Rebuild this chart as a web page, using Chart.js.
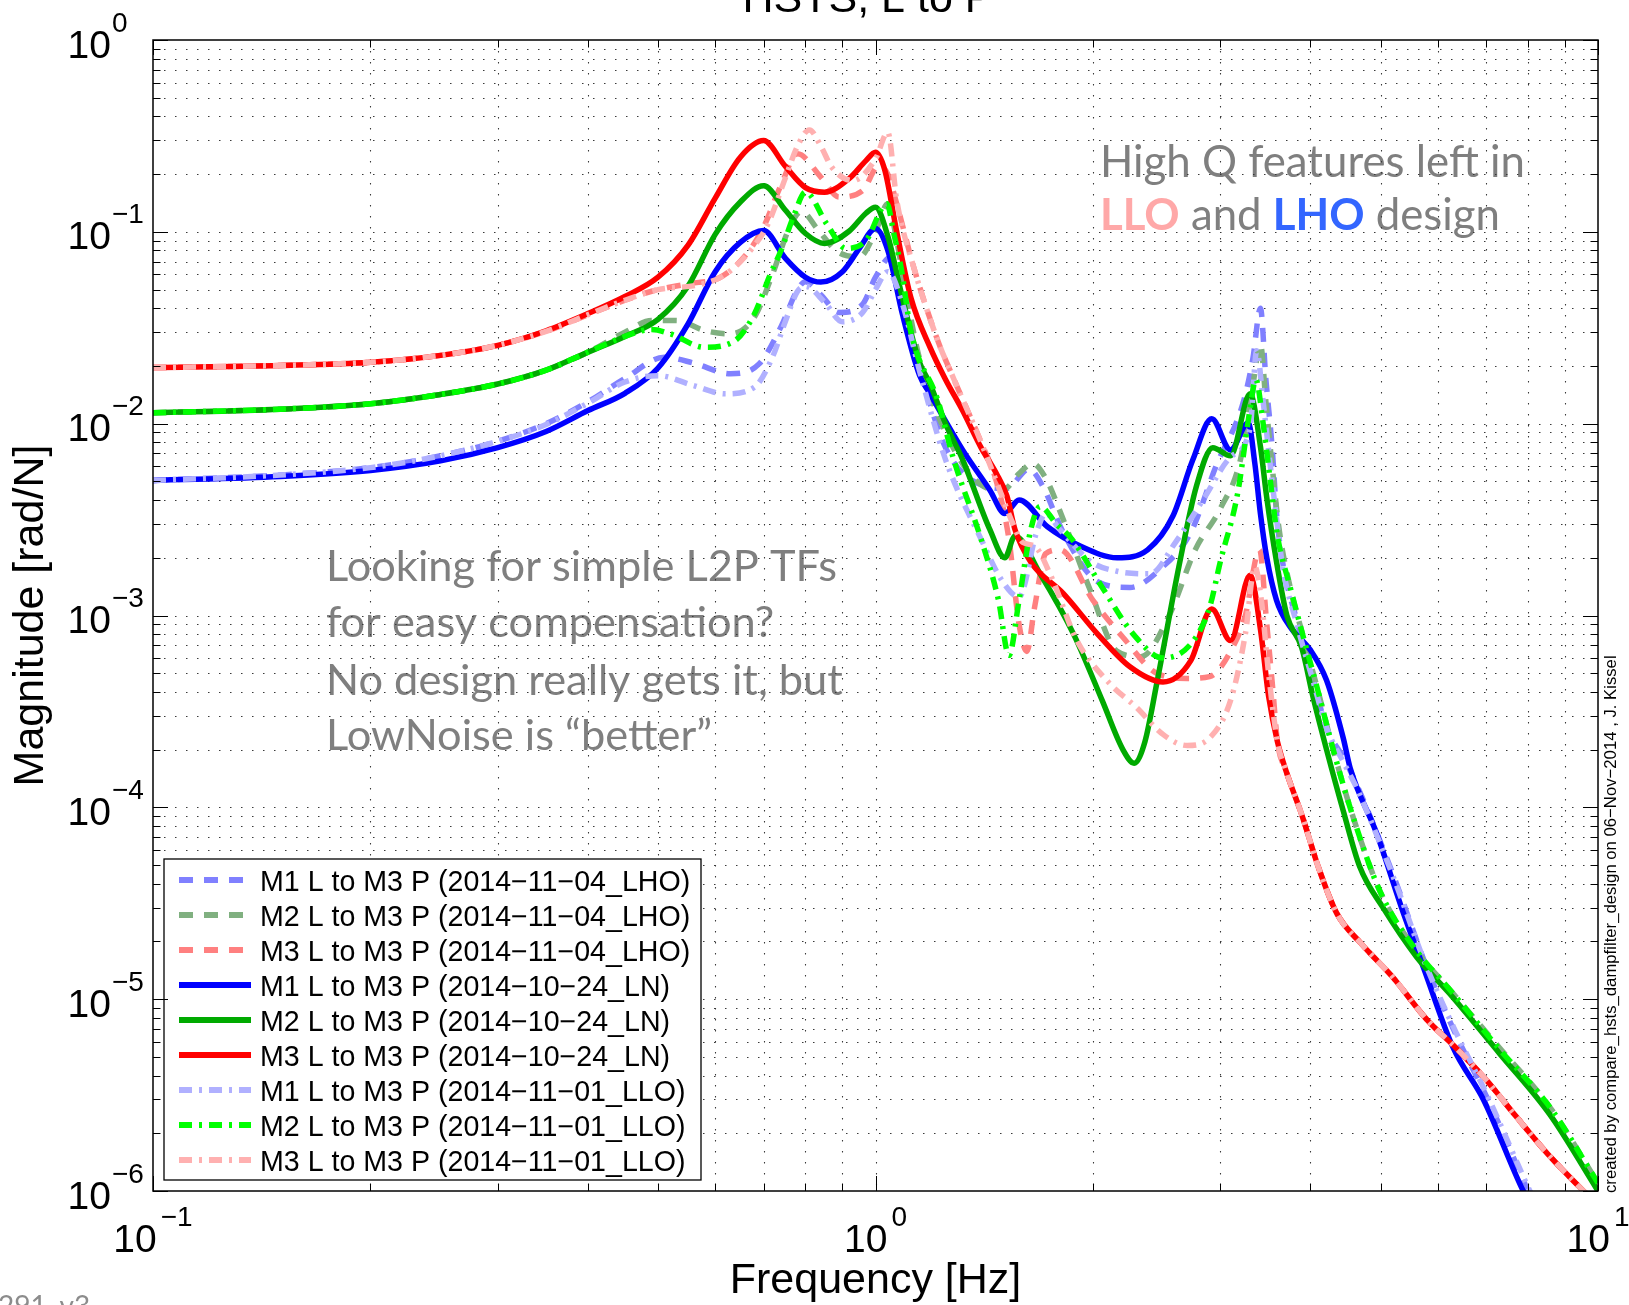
<!DOCTYPE html>
<html>
<head>
<meta charset="utf-8">
<script src="https://cdn.jsdelivr.net/npm/chart.js@4.4.0/dist/chart.umd.min.js"></script>
<style>
  html, body { margin: 0; padding: 0; background: #fff; overflow: hidden; }
  #tfChart { display: block; }
</style>
</head>
<body>
<canvas id="tfChart" width="1629" height="1305"></canvas>
<script>
// ---- data (frequency in Hz, magnitude in rad/N) ----
const fM1LHO = [0.1, 0.15, 0.2, 0.25, 0.3, 0.35, 0.4, 0.45, 0.51, 0.56, 0.63, 0.69, 0.74, 0.78, 0.8, 0.84, 0.89, 0.96, 1.0, 1.05, 1.09, 1.15, 1.25, 1.4, 1.52, 1.63, 1.7, 1.82, 2.03, 2.25, 2.5, 2.73, 2.96, 3.23, 3.33, 3.41, 3.47, 3.54, 3.59, 3.66, 3.83, 4.03, 4.21, 4.45, 4.64, 5.2, 5.78, 6.35, 7.04, 8.0, 8.5];
const mM1LHO = [0.00506, 0.0054, 0.0059, 0.0068, 0.0081, 0.01, 0.013, 0.0172, 0.0222, 0.0207, 0.0182, 0.0205, 0.032, 0.05, 0.055, 0.047, 0.038, 0.042, 0.058, 0.074, 0.045, 0.02, 0.0075, 0.0048, 0.0046, 0.0058, 0.0048, 0.0027, 0.0015, 0.0014, 0.0018, 0.0027, 0.006, 0.013, 0.022, 0.04, 0.017, 0.0075, 0.0034, 0.0019, 0.00094, 0.00047, 0.00026, 0.00018, 0.00013, 4.5e-5, 1.5e-5, 6.6e-6, 3.0e-6, 1.0e-6, 6e-7];

const fM2LHO = [0.1, 0.15, 0.2, 0.25, 0.3, 0.35, 0.4, 0.45, 0.49, 0.53, 0.58, 0.63, 0.68, 0.72, 0.76, 0.79, 0.83, 0.885, 0.95, 1.0, 1.04, 1.07, 1.1, 1.15, 1.25, 1.4, 1.5, 1.58, 1.65, 1.72, 1.8, 1.98, 2.16, 2.33, 2.55, 2.77, 3.0, 3.2, 3.33, 3.41, 3.47, 3.54, 3.62, 3.75, 3.9, 4.1, 4.3, 4.6, 5.0, 5.6, 6.2, 7.3, 8.6, 10];
const mM2LHO = [0.0114, 0.0119, 0.0127, 0.0142, 0.0161, 0.019, 0.0236, 0.03, 0.0345, 0.0345, 0.0306, 0.0294, 0.036, 0.06, 0.105, 0.128, 0.104, 0.079, 0.074, 0.1, 0.14, 0.09, 0.05, 0.022, 0.009, 0.0048, 0.0045, 0.0055, 0.0062, 0.0052, 0.0035, 0.00137, 0.00065, 0.00061, 0.001, 0.0022, 0.0036, 0.0065, 0.016, 0.026, 0.013, 0.006, 0.0028, 0.0014, 0.0008, 0.0004, 0.0002, 8.5e-5, 3.6e-5, 1.8e-5, 1.15e-5, 5.6e-6, 2.7e-6, 1.1e-6];

const fM3LHO = [0.1, 0.15, 0.2, 0.25, 0.3, 0.35, 0.4, 0.45, 0.49, 0.55, 0.61, 0.66, 0.7, 0.74, 0.78, 0.84, 0.89, 0.96, 1.01, 1.04, 1.07, 1.13, 1.22, 1.28, 1.4, 1.47, 1.53, 1.58, 1.62, 1.66, 1.72, 1.8, 2.0, 2.2, 2.45, 2.7, 2.9, 3.1, 3.25, 3.4, 3.48, 3.55, 3.6, 3.7, 3.9, 4.1, 4.35, 4.7, 5.2, 5.8, 6.35, 7.0, 7.7, 8.6, 9.5, 10];
const mM3LHO = [0.0196, 0.0201, 0.0209, 0.0227, 0.0256, 0.0303, 0.037, 0.044, 0.049, 0.0536, 0.058, 0.075, 0.106, 0.175, 0.255, 0.193, 0.152, 0.164, 0.22, 0.2, 0.14, 0.065, 0.027, 0.0175, 0.008, 0.005, 0.0025, 0.0009, 0.00065, 0.0011, 0.0021, 0.0022, 0.0012, 0.00077, 0.0005, 0.00047, 0.00048, 0.00065, 0.001, 0.0022, 0.0009, 0.0004, 0.00022, 0.000155, 8.9e-5, 4.9e-5, 2.8e-5, 1.95e-5, 1.3e-5, 7.8e-6, 5.6e-6, 3.8e-6, 2.45e-6, 1.5e-6, 1.02e-6, 8.5e-7];

const fM1LN = [0.1, 0.15, 0.2, 0.25, 0.3, 0.35, 0.4, 0.45, 0.5, 0.55, 0.6, 0.65, 0.7, 0.75, 0.8, 0.84, 0.9, 0.95, 1.0, 1.04, 1.09, 1.15, 1.19, 1.32, 1.44, 1.51, 1.58, 1.73, 1.92, 2.16, 2.38, 2.58, 2.75, 2.92, 3.1, 3.28, 3.35, 3.41, 3.48, 3.59, 3.75, 4.0, 4.21, 4.44, 4.54, 4.94, 5.38, 5.73, 6.3, 6.94, 7.88, 8.5];
const mM1LN = [0.00506, 0.0053, 0.0057, 0.0064, 0.0075, 0.0091, 0.0117, 0.0144, 0.0195, 0.033, 0.062, 0.088, 0.1015, 0.073, 0.058, 0.0547, 0.062, 0.082, 0.104, 0.08, 0.037, 0.018, 0.0143, 0.0073, 0.0045, 0.0034, 0.004, 0.0029, 0.0023, 0.002, 0.0022, 0.0033, 0.0065, 0.0106, 0.0073, 0.0101, 0.0062, 0.0034, 0.002, 0.0012, 0.00087, 0.00066, 0.00046, 0.00023, 0.00016, 7.3e-5, 2.8e-5, 1.47e-5, 5.6e-6, 3.0e-6, 1.0e-6, 6e-7];

const fM2LN = [0.1, 0.15, 0.2, 0.25, 0.3, 0.35, 0.4, 0.45, 0.5, 0.55, 0.6, 0.65, 0.7, 0.75, 0.8, 0.85, 0.92, 0.97, 1.0, 1.04, 1.09, 1.15, 1.19, 1.25, 1.32, 1.44, 1.51, 1.56, 1.69, 1.88, 2.06, 2.2, 2.28, 2.36, 2.45, 2.63, 2.78, 2.93, 3.1, 3.3, 3.41, 3.48, 3.59, 3.71, 3.89, 4.03, 4.21, 4.44, 4.68, 5.04, 5.61, 6.23, 7.31, 8.58, 10];
const mM2LN = [0.0114, 0.0119, 0.0127, 0.0142, 0.0161, 0.019, 0.0236, 0.0285, 0.035, 0.052, 0.097, 0.143, 0.174, 0.13, 0.098, 0.087, 0.101, 0.125, 0.1345, 0.095, 0.045, 0.021, 0.0161, 0.01, 0.0065, 0.0028, 0.002, 0.0026, 0.00165, 0.0008, 0.00036, 0.0002, 0.00017, 0.00022, 0.00044, 0.0018, 0.0047, 0.0075, 0.0068, 0.0143, 0.0076, 0.0041, 0.0019, 0.001, 0.00068, 0.00038, 0.0002, 9.6e-5, 4.9e-5, 3.0e-5, 1.66e-5, 1.07e-5, 5.2e-6, 2.5e-6, 1.0e-6];

const fM3LN = [0.1, 0.15, 0.2, 0.25, 0.3, 0.35, 0.4, 0.45, 0.5, 0.55, 0.6, 0.65, 0.7, 0.75, 0.8, 0.85, 0.92, 0.97, 1.0, 1.03, 1.07, 1.12, 1.19, 1.25, 1.32, 1.4, 1.47, 1.52, 1.56, 1.64, 1.82, 2.03, 2.25, 2.5, 2.73, 2.92, 3.1, 3.3, 3.41, 3.5, 3.6, 3.7, 3.9, 4.1, 4.35, 4.7, 5.2, 5.8, 6.35, 7.0, 7.7, 8.6, 9.5, 10];
const mM3LN = [0.0196, 0.0201, 0.0209, 0.0227, 0.0256, 0.0305, 0.0375, 0.046, 0.058, 0.085, 0.15, 0.245, 0.299, 0.22, 0.17, 0.161, 0.19, 0.235, 0.26, 0.21, 0.1, 0.045, 0.025, 0.017, 0.0117, 0.0075, 0.0055, 0.0042, 0.0028, 0.0019, 0.0013, 0.0008, 0.00054, 0.00045, 0.00058, 0.00108, 0.00074, 0.00162, 0.00085, 0.00038, 0.00022, 0.000155, 8.9e-5, 4.9e-5, 2.8e-5, 1.95e-5, 1.3e-5, 7.8e-6, 5.6e-6, 3.8e-6, 2.45e-6, 1.5e-6, 1.02e-6, 8.5e-7];

const fM1LLO = [0.1, 0.15, 0.2, 0.25, 0.3, 0.35, 0.4, 0.45, 0.5, 0.56, 0.62, 0.68, 0.72, 0.75, 0.78, 0.8, 0.85, 0.9, 0.96, 1.0, 1.04, 1.09, 1.15, 1.25, 1.4, 1.5, 1.58, 1.67, 1.72, 1.8, 1.99, 2.16, 2.4, 2.6, 2.85, 3.1, 3.3, 3.37, 3.44, 3.52, 3.59, 3.66, 3.83, 4.03, 4.21, 4.45, 4.64, 5.2, 5.78, 6.35, 7.04, 8.0, 8.5];
const mM1LLO = [0.00506, 0.0054, 0.0059, 0.0068, 0.0081, 0.0099, 0.0128, 0.0165, 0.0178, 0.0158, 0.0143, 0.0155, 0.0222, 0.034, 0.049, 0.052, 0.043, 0.034, 0.038, 0.05, 0.062, 0.042, 0.019, 0.0065, 0.0025, 0.0015, 0.00125, 0.0027, 0.0034, 0.0028, 0.0019, 0.0017, 0.00165, 0.0024, 0.0041, 0.0067, 0.0095, 0.024, 0.013, 0.006, 0.0032, 0.0018, 0.0009, 0.00046, 0.00026, 0.00017, 0.000125, 4.4e-5, 1.5e-5, 6.8e-6, 3.1e-6, 1.05e-6, 6.5e-7];

const fM2LLO = [0.1, 0.15, 0.2, 0.25, 0.3, 0.35, 0.4, 0.45, 0.49, 0.52, 0.58, 0.64, 0.68, 0.715, 0.74, 0.77, 0.8, 0.856, 0.91, 0.97, 1.037, 1.06, 1.085, 1.12, 1.22, 1.28, 1.4, 1.48, 1.53, 1.58, 1.64, 1.69, 1.78, 1.87, 2.06, 2.28, 2.5, 2.74, 2.9, 3.0, 3.17, 3.3, 3.36, 3.44, 3.52, 3.6, 3.75, 3.9, 4.1, 4.3, 4.6, 5.0, 5.6, 6.2, 7.3, 8.6, 10];
const mM2LLO = [0.0114, 0.0119, 0.0127, 0.0142, 0.0161, 0.019, 0.0236, 0.0285, 0.031, 0.0294, 0.025, 0.0272, 0.0374, 0.06, 0.08, 0.12, 0.161, 0.11, 0.082, 0.09, 0.14, 0.098, 0.065, 0.03, 0.0132, 0.0067, 0.0025, 0.0012, 0.00062, 0.0012, 0.0028, 0.0037, 0.003, 0.0025, 0.0014, 0.00079, 0.0006, 0.00072, 0.0011, 0.0019, 0.0043, 0.012, 0.017, 0.01, 0.005, 0.0026, 0.0014, 0.0008, 0.0004, 0.0002, 8.5e-5, 3.6e-5, 1.8e-5, 1.15e-5, 5.5e-6, 2.7e-6, 1.1e-6];

const fM3LLO = [0.1, 0.15, 0.2, 0.25, 0.3, 0.35, 0.4, 0.45, 0.5, 0.57, 0.62, 0.68, 0.71, 0.75, 0.78, 0.81, 0.84, 0.87, 0.93, 1.0, 1.04, 1.07, 1.13, 1.22, 1.28, 1.4, 1.47, 1.55, 1.6, 1.66, 1.75, 1.9, 2.1, 2.3, 2.5, 2.7, 2.9, 3.1, 3.25, 3.35, 3.42, 3.5, 3.6, 3.7, 3.9, 4.1, 4.35, 4.7, 5.2, 5.8, 6.35, 7.0, 7.7, 8.6, 9.5, 10];
const mM3LLO = [0.0196, 0.0201, 0.0209, 0.0227, 0.0256, 0.0303, 0.037, 0.044, 0.05, 0.053, 0.06, 0.085, 0.11, 0.19, 0.28, 0.34, 0.28, 0.217, 0.185, 0.24, 0.33, 0.146, 0.065, 0.027, 0.0175, 0.008, 0.005, 0.003, 0.0024, 0.0023, 0.0016, 0.00074, 0.00045, 0.00033, 0.00024, 0.00021, 0.00023, 0.00036, 0.0008, 0.0018, 0.0012, 0.0005, 0.00022, 0.000155, 8.9e-5, 4.9e-5, 2.8e-5, 1.95e-5, 1.3e-5, 7.8e-6, 5.6e-6, 3.8e-6, 2.45e-6, 1.5e-6, 1.02e-6, 8.5e-7];

const seriesLabels = [
  "M1 L to M3 P (2014\u221211\u221204_LHO)",
  "M2 L to M3 P (2014\u221211\u221204_LHO)",
  "M3 L to M3 P (2014\u221211\u221204_LHO)",
  "M1 L to M3 P (2014\u221210\u221224_LN)",
  "M2 L to M3 P (2014\u221210\u221224_LN)",
  "M3 L to M3 P (2014\u221210\u221224_LN)",
  "M1 L to M3 P (2014\u221211\u221201_LLO)",
  "M2 L to M3 P (2014\u221211\u221201_LLO)",
  "M3 L to M3 P (2014\u221211\u221201_LLO)"
];

const xTickVals = [0.1, 1, 10];
const xTickExps = ["\u22121", "0", "1"];
const yTickVals = [1, 0.1, 0.01, 0.001, 1e-4, 1e-5, 1e-6];
const yTickExps = ["0", "\u22121", "\u22122", "\u22123", "\u22124", "\u22125", "\u22126"];

// ---- styles ----
const DASHED = [14, 11];
const DASHDOT = [13, 7, 3, 7];
const SANS = '"Liberation Sans", Arial, Helvetica, sans-serif';
const NOTE = 'Lato, "Open Sans", sans-serif';

const seriesDefs = [
  { f: fM1LHO, m: mM1LHO, color: "#8080ff", dash: DASHED },
  { f: fM2LHO, m: mM2LHO, color: "#80b080", dash: DASHED },
  { f: fM3LHO, m: mM3LHO, color: "#ff8080", dash: DASHED },
  { f: fM1LN, m: mM1LN, color: "#0000ff", dash: [] },
  { f: fM2LN, m: mM2LN, color: "#00aa00", dash: [] },
  { f: fM3LN, m: mM3LN, color: "#ff0000", dash: [] },
  { f: fM1LLO, m: mM1LLO, color: "#b0b0ff", dash: DASHDOT },
  { f: fM2LLO, m: mM2LLO, color: "#00ff00", dash: DASHDOT },
  { f: fM3LLO, m: mM3LLO, color: "#ffb0b0", dash: DASHDOT }
];

let datasets = seriesDefs.map((s, i) => ({
  label: seriesLabels[i],
  data: s.f.map((f, k) => ({ x: f, y: s.m[k] })),
  borderColor: s.color,
  borderWidth: 5.5,
  borderDash: s.dash,
  borderCapStyle: "butt",
  borderJoinStyle: "round",
  cubicInterpolationMode: "monotone",
  pointRadius: 0,
  fill: false,
  clip: 0,
  order: seriesDefs.length - i
}));

function fitSize(ctx, text, family, weight, targetW) {
  ctx.font = weight + " 40px " + family;
  return 40 * targetW / ctx.measureText(text).width;
}

function minorValues(min, max) {
  let out = [];
  for (let d = min; d < max; d *= 10) {
    for (let k = 1; k < 10; k++) out.push(d * k);
  }
  out.push(max);
  return out;
}

const decor = {
  id: "decor",
  beforeDatasetsDraw(chart) {
    const ctx = chart.ctx;
    const a = chart.chartArea;
    const xs = chart.scales.x, ys = chart.scales.y;

    // annotation text (sits under the grid)
    ctx.save();
    ctx.textBaseline = "alphabetic";
    ctx.textAlign = "left";
    let s1 = fitSize(ctx, "High Q features left in", NOTE, "normal", 425);
    ctx.font = "normal " + s1 + "px " + NOTE;
    ctx.fillStyle = "#7f7f7f";
    ctx.fillText("High Q features left in", 1100, 177);
    let x = 1100;
    const parts = [["LLO", "#ffa8a8", "bold"], [" and ", "#7f7f7f", "normal"], ["LHO", "#3366ff", "bold"], [" design", "#7f7f7f", "normal"]];
    parts.forEach(p => {
      ctx.font = p[2] + " " + s1 + "px " + NOTE;
      ctx.fillStyle = p[1];
      ctx.fillText(p[0], x, 230);
      x += ctx.measureText(p[0]).width;
    });

    const lines = ["Looking for simple L2P TFs", "for easy compensation?", "No design really gets it, but", "LowNoise is \u201cbetter\u201d"];
    let s2 = fitSize(ctx, lines[0], NOTE, "normal", 511);
    ctx.font = "normal " + s2 + "px " + NOTE;
    ctx.fillStyle = "#7f7f7f";
    const baselines = [581, 637, 695, 750];
    lines.forEach((t, i) => ctx.fillText(t, 326, baselines[i]));
    ctx.restore();

    // dotted grid
    ctx.save();
    ctx.strokeStyle = "#3a3a3a";
    ctx.lineWidth = 1.1;
    ctx.setLineDash([1.5, 9.5]);
    minorValues(0.1, 10).forEach(v => {
      const px = Math.round(xs.getPixelForValue(v)) + 0.5;
      if (px <= a.left + 1 || px >= a.right - 1) return;
      ctx.beginPath(); ctx.moveTo(px, a.top); ctx.lineTo(px, a.bottom); ctx.stroke();
    });
    minorValues(1e-6, 1).forEach(v => {
      const py = Math.round(ys.getPixelForValue(v)) + 0.5;
      if (py <= a.top + 1 || py >= a.bottom - 1) return;
      ctx.beginPath(); ctx.moveTo(a.left, py); ctx.lineTo(a.right, py); ctx.stroke();
    });
    ctx.restore();
  },
  afterDatasetsDraw(chart) {
    const ctx = chart.ctx;
    const a = chart.chartArea;
    const xs = chart.scales.x, ys = chart.scales.y;

    // legend box
    ctx.save();
    const lx = 164, ly = 859, lw = 537, lh = 321;
    ctx.fillStyle = "#fff";
    ctx.fillRect(lx, ly, lw, lh);
    ctx.strokeStyle = "#000";
    ctx.lineWidth = 1.3;
    ctx.strokeRect(lx, ly, lw, lh);
    ctx.font = "28.6px " + SANS;
    ctx.textAlign = "left";
    ctx.textBaseline = "alphabetic";
    chart.data.datasets.forEach((ds, i) => {
      const cy = 880 + 35 * i;
      ctx.save();
      ctx.strokeStyle = ds.borderColor;
      ctx.lineWidth = 6;
      ctx.lineCap = "butt";
      ctx.setLineDash(ds.borderDash);
      ctx.beginPath(); ctx.moveTo(179, cy); ctx.lineTo(251, cy); ctx.stroke();
      ctx.restore();
      ctx.fillStyle = "#000";
      ctx.fillText(ds.label, 260, cy + 10.5);
    });
    ctx.restore();

    // axes box and inward ticks
    ctx.save();
    ctx.strokeStyle = "#000";
    ctx.lineWidth = 1;
    const tick = (x1, y1, x2, y2) => { ctx.beginPath(); ctx.moveTo(x1, y1); ctx.lineTo(x2, y2); ctx.stroke(); };
    minorValues(0.1, 10).forEach(v => {
      const px = Math.round(xs.getPixelForValue(v)) + 0.5;
      const major = Math.abs(Math.log10(v) - Math.round(Math.log10(v))) < 1e-9;
      const len = major ? 15 : 7.5;
      tick(px, a.bottom, px, a.bottom - len);
      tick(px, a.top, px, a.top + len);
    });
    minorValues(1e-6, 1).forEach(v => {
      const py = Math.round(ys.getPixelForValue(v)) + 0.5;
      const major = Math.abs(Math.log10(v) - Math.round(Math.log10(v))) < 1e-9;
      const len = major ? 15 : 7.5;
      tick(a.left, py, a.left + len, py);
      tick(a.right, py, a.right - len, py);
    });
    ctx.lineWidth = 1.5;
    ctx.strokeRect(a.left, a.top, a.right - a.left, a.bottom - a.top);
    ctx.restore();

    // tick labels 10^n
    ctx.save();
    ctx.fillStyle = "#000";
    ctx.textBaseline = "alphabetic";
    const big = "39px " + SANS, small = "28px " + SANS;
    yTickVals.forEach((v, i) => {
      const py = ys.getPixelForValue(v);
      ctx.font = big; ctx.textAlign = "right";
      ctx.fillText("10", 111, py + 17.5);
      ctx.font = small; ctx.textAlign = "left";
      ctx.fillText(yTickExps[i], 112, py - 8.5);
    });
    xTickVals.forEach((v, i) => {
      const px = xs.getPixelForValue(v);
      ctx.font = big; const w10 = ctx.measureText("10").width;
      ctx.font = small; const we = ctx.measureText(xTickExps[i]).width;
      const x0 = px - (w10 + 4 + we) / 2;
      ctx.font = big; ctx.textAlign = "left";
      ctx.fillText("10", x0, 1252);
      ctx.font = small;
      ctx.fillText(xTickExps[i], x0 + w10 + 4, 1226);
    });

    // axis titles and title
    ctx.font = "43px " + SANS;
    ctx.textAlign = "center";
    ctx.fillText("Frequency [Hz]", (a.left + a.right) / 2, 1293);
    ctx.fillText("HSTS, L to P", 868, 12);
    ctx.save();
    ctx.translate(43, (a.top + a.bottom) / 2);
    ctx.rotate(-Math.PI / 2);
    ctx.fillText("Magnitude [rad/N]", 0, 0);
    ctx.restore();

    // credit line on the right
    const credit = "created by compare_hsts_dampfilter_design on 06\u2212Nov\u22122014 , J. Kissel";
    const cs = fitSize(ctx, credit, SANS, "normal", 538);
    ctx.font = cs + "px " + SANS;
    ctx.textAlign = "left";
    ctx.save();
    ctx.translate(1616, 1193);
    ctx.rotate(-Math.PI / 2);
    ctx.fillText(credit, 0, 0);
    ctx.restore();

    // cut-off document number at bottom left
    ctx.font = "28px " + NOTE;
    ctx.fillStyle = "#8c8c8c";
    ctx.fillText("291_v3", -2, 1316);
    ctx.restore();
  }
};

const chart = new Chart(document.getElementById("tfChart"), {
  type: "line",
  data: { datasets: datasets },
  options: {
    responsive: false,
    devicePixelRatio: 1,
    animation: false,
    events: [],
    layout: { padding: { left: 153, right: 31, top: 40, bottom: 114 } },
    plugins: { legend: { display: false }, tooltip: { enabled: false } },
    scales: {
      x: { type: "logarithmic", min: 0.1, max: 10, display: false },
      y: { type: "logarithmic", min: 1e-6, max: 1, display: false }
    }
  },
  plugins: [decor]
});
</script>
</body>
</html>
